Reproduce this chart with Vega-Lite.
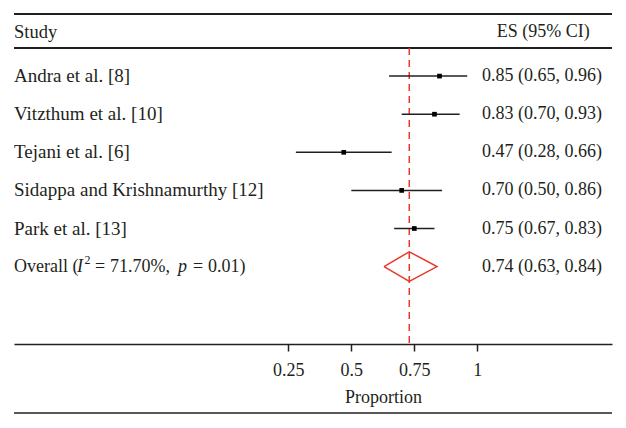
{
  "$schema": "https://vega.github.io/schema/vega-lite/v6.json",
  "width": 598,
  "height": 399,
  "autosize": {"type": "none"},
  "padding": {"left": 14, "top": 14, "right": 14, "bottom": 15},
  "background": "white",
  "config": {
    "view": {"stroke": null},
    "font": "Liberation Serif",
    "text": {"font": "Liberation Serif", "fontSize": 18, "color": "#231f20"}
  },
  "datasets": {
    "studies": [
      {"study": "Andra et al. [8]", "es": 0.85, "lo": 0.65, "hi": 0.96, "label": "0.85 (0.65, 0.96)", "row": 0},
      {"study": "Vitzthum et al. [10]", "es": 0.83, "lo": 0.70, "hi": 0.93, "label": "0.83 (0.70, 0.93)", "row": 1},
      {"study": "Tejani et al. [6]", "es": 0.47, "lo": 0.28, "hi": 0.66, "label": "0.47 (0.28, 0.66)", "row": 2},
      {"study": "Sidappa and Krishnamurthy [12]", "es": 0.70, "lo": 0.50, "hi": 0.86, "label": "0.70 (0.50, 0.86)", "row": 3},
      {"study": "Park et al. [13]", "es": 0.75, "lo": 0.67, "hi": 0.83, "label": "0.75 (0.67, 0.83)", "row": 4}
    ],
    "diamond": [
      {"order": 0, "x": 0.63, "row": 5},
      {"order": 1, "x": 0.73, "row": 4.61},
      {"order": 2, "x": 0.84, "row": 5},
      {"order": 3, "x": 0.73, "row": 5.39},
      {"order": 4, "x": 0.63, "row": 5}
    ],
    "overall": [
      {"label": "0.74 (0.63, 0.84)", "row": 5}
    ],
    "header": [
      {"left": "Study", "right": "ES (95% CI)", "row": -1.16}
    ]
  },
  "layer": [
    {
      "data": {"name": "header"},
      "mark": {"type": "rule", "stroke": "#231f20", "strokeWidth": 2},
      "encoding": {
        "y": {"datum": -1.63, "type": "quantitative", "scale": {"domain": [-1.63, 8.842], "reverse": true, "nice": false, "zero": false}, "axis": null}
      }
    },
    {
      "data": {"name": "header"},
      "mark": {"type": "rule", "stroke": "#231f20", "strokeWidth": 2},
      "encoding": {"y": {"datum": -0.74, "type": "quantitative"}}
    },
    {
      "data": {"name": "header"},
      "mark": {"type": "rule", "stroke": "#231f20", "strokeWidth": 1.5},
      "encoding": {"y": {"datum": 8.842, "type": "quantitative"}}
    },
    {
      "data": {"name": "header"},
      "mark": {"type": "rule", "stroke": "#e8392b", "strokeWidth": 1.5, "strokeDash": [7, 5]},
      "encoding": {
        "x": {"datum": 0.73, "type": "quantitative"},
        "y": {"datum": -0.74, "type": "quantitative"},
        "y2": {"datum": 7.03}
      }
    },
    {
      "data": {"name": "studies"},
      "mark": {"type": "rule", "stroke": "#231f20", "strokeWidth": 1.5},
      "encoding": {
        "x": {
          "field": "lo", "type": "quantitative",
          "scale": {"domain": [-0.8385, 1.5345], "nice": false, "zero": false},
          "axis": {
            "values": [0.25, 0.5, 0.75, 1],
            "format": "~g",
            "title": "Proportion",
            "grid": false,
            "offset": -69,
            "domainColor": "#231f20",
            "domainWidth": 1.5,
            "tickColor": "#231f20",
            "tickWidth": 1.5,
            "tickSize": 7,
            "labelFont": "Liberation Serif",
            "labelFontSize": 18,
            "labelColor": "#231f20",
            "labelBaseline": "alphabetic",
            "labelPadding": 24,
            "titleFont": "Liberation Serif",
            "titleFontSize": 18,
            "titleFontWeight": "normal",
            "titleColor": "#231f20",
            "titleX": 369,
            "titleY": 58,
            "titleAlign": "center",
            "titleBaseline": "alphabetic"
          }
        },
        "x2": {"field": "hi"},
        "y": {"field": "row", "type": "quantitative"}
      }
    },
    {
      "data": {"name": "studies"},
      "mark": {"type": "point", "shape": "square", "filled": true, "color": "#000000", "size": 22, "opacity": 1},
      "encoding": {
        "x": {"field": "es", "type": "quantitative"},
        "y": {"field": "row", "type": "quantitative"}
      }
    },
    {
      "data": {"name": "diamond"},
      "mark": {"type": "line", "color": "#e8392b", "strokeWidth": 1.5},
      "encoding": {
        "x": {"field": "x", "type": "quantitative"},
        "y": {"field": "row", "type": "quantitative"},
        "order": {"field": "order"}
      }
    },
    {
      "data": {"name": "studies"},
      "mark": {"type": "text", "align": "left", "baseline": "middle", "fontSize": 19},
      "encoding": {
        "x": {"datum": -0.8385, "type": "quantitative"},
        "y": {"field": "row", "type": "quantitative"},
        "text": {"field": "study"}
      }
    },
    {
      "data": {"name": "studies"},
      "mark": {"type": "text", "align": "left", "baseline": "middle"},
      "encoding": {
        "x": {"datum": 1.0187, "type": "quantitative"},
        "y": {"field": "row", "type": "quantitative"},
        "text": {"field": "label"}
      }
    },
    {
      "data": {"name": "overall"},
      "mark": {"type": "text", "align": "left", "baseline": "middle"},
      "encoding": {
        "x": {"datum": 1.0187, "type": "quantitative"},
        "y": {"field": "row", "type": "quantitative"},
        "text": {"field": "label"}
      }
    },
    {
      "data": {"name": "header"},
      "mark": {"type": "text", "align": "left", "baseline": "middle", "fontSize": 18.5},
      "encoding": {
        "x": {"datum": -0.8385, "type": "quantitative"},
        "y": {"field": "row", "type": "quantitative"},
        "text": {"field": "left"}
      }
    },
    {
      "data": {"name": "header"},
      "mark": {"type": "text", "align": "left", "baseline": "middle"},
      "encoding": {
        "x": {"datum": 1.0774, "type": "quantitative"},
        "y": {"field": "row", "type": "quantitative"},
        "text": {"field": "right"}
      }
    },
    {
      "data": {"name": "overall"},
      "mark": {"type": "text", "align": "left", "baseline": "middle", "text": "Overall ("},
      "encoding": {
        "x": {"datum": -0.8385, "type": "quantitative"},
        "y": {"field": "row", "type": "quantitative"}
      }
    },
    {
      "data": {"name": "overall"},
      "mark": {"type": "text", "align": "left", "baseline": "middle", "text": "I", "fontStyle": "italic", "dx": 63},
      "encoding": {
        "x": {"datum": -0.8385, "type": "quantitative"},
        "y": {"field": "row", "type": "quantitative"}
      }
    },
    {
      "data": {"name": "overall"},
      "mark": {"type": "text", "align": "left", "baseline": "middle", "text": "2", "fontSize": 12, "dx": 70.5, "dy": -7},
      "encoding": {
        "x": {"datum": -0.8385, "type": "quantitative"},
        "y": {"field": "row", "type": "quantitative"}
      }
    },
    {
      "data": {"name": "overall"},
      "mark": {"type": "text", "align": "left", "baseline": "middle", "text": "=", "dx": 81},
      "encoding": {
        "x": {"datum": -0.8385, "type": "quantitative"},
        "y": {"field": "row", "type": "quantitative"}
      }
    },
    {
      "data": {"name": "overall"},
      "mark": {"type": "text", "align": "left", "baseline": "middle", "text": "71.70%,", "dx": 96},
      "encoding": {
        "x": {"datum": -0.8385, "type": "quantitative"},
        "y": {"field": "row", "type": "quantitative"}
      }
    },
    {
      "data": {"name": "overall"},
      "mark": {"type": "text", "align": "left", "baseline": "middle", "text": "p", "fontStyle": "italic", "dx": 164},
      "encoding": {
        "x": {"datum": -0.8385, "type": "quantitative"},
        "y": {"field": "row", "type": "quantitative"}
      }
    },
    {
      "data": {"name": "overall"},
      "mark": {"type": "text", "align": "left", "baseline": "middle", "text": "=", "dx": 179},
      "encoding": {
        "x": {"datum": -0.8385, "type": "quantitative"},
        "y": {"field": "row", "type": "quantitative"}
      }
    },
    {
      "data": {"name": "overall"},
      "mark": {"type": "text", "align": "left", "baseline": "middle", "text": "0.01)", "dx": 194},
      "encoding": {
        "x": {"datum": -0.8385, "type": "quantitative"},
        "y": {"field": "row", "type": "quantitative"}
      }
    }
  ]
}
